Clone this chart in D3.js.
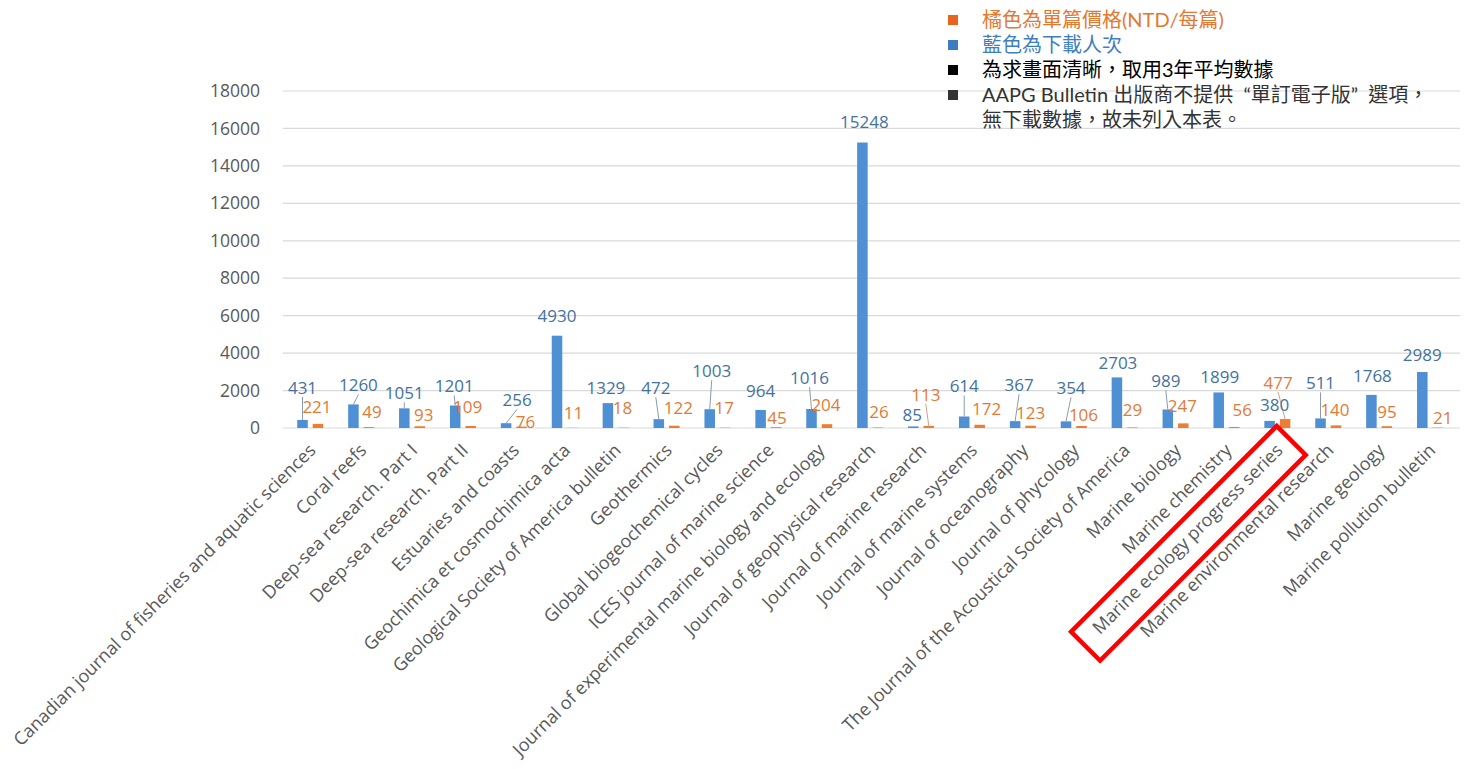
<!DOCTYPE html>
<html><head><meta charset="utf-8">
<script src="https://cdn.jsdelivr.net/npm/d3@7"></script>
<style>
html,body{margin:0;padding:0;background:#fff;}
svg{display:block;}
</style></head>
<body>
<svg id="chart" width="1471" height="769"></svg>
<script>
const categories = [
  "Canadian journal of fisheries and aquatic sciences","Coral reefs","Deep-sea research. Part I",
  "Deep-sea research. Part II","Estuaries and coasts","Geochimica et cosmochimica acta",
  "Geological Society of America bulletin","Geothermics","Global biogeochemical cycles",
  "ICES journal of marine science","Journal of experimental marine biology and ecology",
  "Journal of geophysical research","Journal of marine research","Journal of marine systems",
  "Journal of oceanography","Journal of phycology","The Journal of the Acoustical Society of America",
  "Marine biology","Marine chemistry","Marine ecology progress series","Marine environmental research",
  "Marine geology","Marine pollution bulletin"
];
const downloads = [431,1260,1051,1201,256,4930,1329,472,1003,964,1016,15248,85,614,367,354,2703,989,1899,380,511,1768,2989];
const prices = [221,49,93,109,76,11,18,122,17,45,204,26,113,172,123,106,29,247,56,477,140,95,21];
const yTicks = [0,2000,4000,6000,8000,10000,12000,14000,16000,18000];
const highlighted = "Marine ecology progress series";
const legendLines = [
  {text:"橘色為單篇價格(NTD/每篇)", color:"#e4782f", mark:"#e8641f"},
  {text:"藍色為下載人次", color:"#3d7fc1", mark:"#3a7dc0"},
  {text:"為求畫面清晰，取用3年平均數據", color:"#000000", mark:"#000000"},
  {text:"AAPG Bulletin 出版商不提供  “單訂電子版”  選項，", color:"#333333", mark:"#333333"},
  {text:"無下載數據，故未列入本表。", color:"#333333", mark:null}
];
// data-label nudges (pixels, relative to the bar top centre)
const blueDx = [0,5,0,-1,11,0,-2,-3,2,0,-2,2,-1,0,4,5,1,-2,1,5,0,1,0];
const blueDy = [-32,-19,-15,-19,-23,-20,-15,-31,-38,-19,-31,-20,-11,-30,-36,-33,-14,-28,-15,-16,-35,-19,-17];
const blueLeader = [1,1,1,1,1,0,0,1,1,0,1,0,0,1,1,1,0,1,0,0,1,0,0];
const orangeDx = [-1,3,4,-3,4,1,-1,4,-1,1,-1,1,-3,7,0,2,0,-1,8,-7,-1,0,5];
const orangeDy = [-17,-15,-11,-19,-5,-15,-20,-18,-20,-9,-19,-15,-31,-16,-13,-11,-17,-17,-17,-36,-15,-14,-10];
const orangeLeader = [0,0,0,0,0,0,0,0,0,0,0,0,1,0,0,0,0,0,0,1,0,0,0];

const BLUE = "#4f8fd4", ORANGE = "#ed7d31";
const BLUE_TXT = "#44729e", ORANGE_TXT = "#e27a35";

const svg = d3.select("#chart");
const plot = {left:284.8, right:1455.5, top:91, bottom:428};

const x0 = d3.scaleBand().domain(categories).range([plot.left, plot.right]).padding(0);
const x1 = d3.scaleBand().domain(["dl","price"]).range([0,26]).paddingInner(0.32).paddingOuter(0);
const y = d3.scaleLinear().domain([0,18000]).range([plot.bottom, plot.top]);
const groupX = c => x0(c) + x0.bandwidth()/2 - 13;

// gridlines
svg.append("g").selectAll("line").data(yTicks).join("line")
  .attr("x1", plot.left - 2).attr("x2", 1460)
  .attr("y1", d => y(d)).attr("y2", d => y(d))
  .attr("stroke", "#d9d9d9").attr("stroke-width", 1.2);

// y axis labels
const yAxis = d3.axisLeft(y).tickValues(yTicks).tickSize(0).tickPadding(0).tickFormat(d3.format("d"));
const yg = svg.append("g").attr("transform", "translate(260,0)").call(yAxis);
yg.select(".domain").remove();
yg.selectAll("text").attr("fill","#595959").style("font-family","'Open Sans', sans-serif").style("font-size","17.5px");

// bars
const rows = categories.map((c,i) => ({c, i, dl: downloads[i], pr: prices[i]}));
svg.append("g").selectAll("rect").data(rows).join("rect")
  .attr("x", d => groupX(d.c) + x1("dl")).attr("width", x1.bandwidth())
  .attr("y", d => y(d.dl)).attr("height", d => y(0) - y(d.dl)).attr("fill", BLUE);
svg.append("g").selectAll("rect").data(rows).join("rect")
  .attr("x", d => groupX(d.c) + x1("price")).attr("width", x1.bandwidth())
  .attr("y", d => y(d.pr)).attr("height", d => y(0) - y(d.pr)).attr("fill", ORANGE);

// leader lines
const bx = d => groupX(d.c) + x1("dl") + x1.bandwidth()/2;
const ox = d => groupX(d.c) + x1("price") + x1.bandwidth()/2;
svg.append("g").selectAll("line").data(rows.filter(d => blueLeader[d.i])).join("line")
  .attr("x1", d => bx(d) + blueDx[d.i]).attr("y1", d => y(d.dl) + blueDy[d.i] + 9)
  .attr("x2", d => bx(d)).attr("y2", d => y(d.dl))
  .attr("stroke", "#8a9bb0").attr("stroke-width", 1);
svg.append("g").selectAll("line").data(rows.filter(d => orangeLeader[d.i])).join("line")
  .attr("x1", d => ox(d) + orangeDx[d.i]).attr("y1", d => y(d.pr) + orangeDy[d.i] + 9)
  .attr("x2", d => ox(d)).attr("y2", d => y(d.pr))
  .attr("stroke", "#c9a58a").attr("stroke-width", 1);

// data labels
const lblFont = "'Open Sans', sans-serif";
svg.append("g").selectAll("text").data(rows).join("text")
  .attr("x", d => bx(d) + blueDx[d.i]).attr("y", d => y(d.dl) + blueDy[d.i])
  .attr("dy", "0.35em").attr("text-anchor","middle")
  .attr("fill", BLUE_TXT).style("font-family", lblFont).style("font-size","17px")
  .text(d => d.dl);
svg.append("g").selectAll("text").data(rows).join("text")
  .attr("x", d => ox(d) + orangeDx[d.i]).attr("y", d => y(d.pr) + orangeDy[d.i])
  .attr("dy", "0.35em").attr("text-anchor","middle")
  .attr("fill", ORANGE_TXT).style("font-family", lblFont).style("font-size","17px")
  .text(d => d.pr);

// x axis labels
const xg = svg.append("g");
const xl = xg.selectAll("g").data(categories).join("g")
  .attr("transform", c => `translate(${x0(c) + x0.bandwidth()/2 + 2},${plot.bottom + 19}) rotate(-45)`);
xl.append("text")
  .attr("text-anchor","end").attr("dy","0.35em")
  .attr("fill","#595959").style("font-family","'Open Sans', sans-serif").style("font-size","18px")
  .text(c => c);
// highlight box
xl.filter(c => c === highlighted).each(function(){
  const g = d3.select(this);
  const bb = g.select("text").node().getBBox();
  g.append("rect")
    .attr("x", bb.x - 18).attr("y", bb.y - 4)
    .attr("width", bb.width + 31).attr("height", bb.height + 17)
    .attr("fill","none").attr("stroke","#ff0000").attr("stroke-width",4.5);
});

// legend
const lg = svg.append("g").attr("transform","translate(948,0)");
legendLines.forEach((l,k) => {
  const cy = 20 + k*25;
  if (l.mark) lg.append("rect").attr("x",0).attr("y",cy-5).attr("width",10).attr("height",10).attr("fill",l.mark);
  lg.append("text").attr("x",34).attr("y",cy).attr("dy","0.36em")
    .attr("fill",l.color).style("font-family","Lato, 'Noto Sans CJK TC', sans-serif").style("font-size","20px")
    .style("white-space","pre")
    .text(l.text);
});
</script>
</body></html>
